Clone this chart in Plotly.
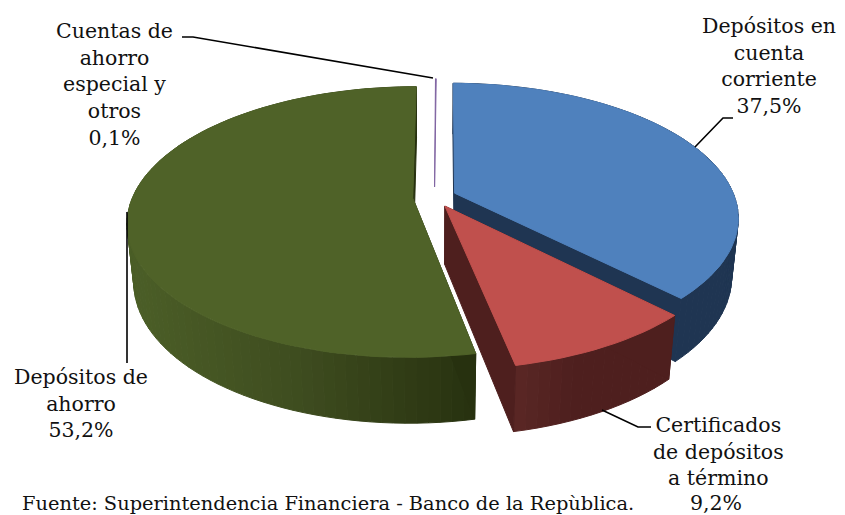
import math
import plotly.graph_objects as go

# ---- data ----
labels = ["Depósitos en cuenta corriente", "Certificados de depósitos a término",
          "Depósitos de ahorro", "Cuentas de ahorro especial y otros"]
values = [37.5, 9.2, 53.2, 0.1]
value_text = ["37,5%", "9,2%", "53,2%", "0,1%"]
top_colors = ["#4F81BD", "#C0504D", "#4F6228", "#8064A2"]
footer = "Fuente: Superintendencia Financiera - Banco de la Repùblica."

# ---- 3-D view of the exploded pie ----
W, H = 845, 515
CX, CY = 434.5, 197.0
L, EL = 5.0, math.radians(27.5)
F = 283.0 * L
FX = 280.0 * L
EXPLODE, DEPTH = 0.078, 0.235
START = math.radians(0.4)
C, S = math.cos(EL), math.sin(EL)


def proj(x, t, z):
    d = L - (t * C + z * S)
    return CX + FX * x / d, CY - F * (z * C - t * S) / d


def hex_rgb(h):
    return tuple(int(h[i:i + 2], 16) for i in (1, 3, 5))


def mix(a, b, k):
    return "rgb(%d,%d,%d)" % tuple(round(p + (q - p) * k) for p, q in zip(hex_rgb(a), hex_rgb(b)))


def side_color(i, sx):
    if i == 0:
        return "#1F3552"
    if i == 1:
        return mix("#5A2725", "#4E1F1E", min(1, max(0, (sx - 515) / 60)))
    if i == 2:
        if sx < 300:
            return mix("#4B5E27", "#3E4C1F", max(0, (sx - 130) / 170))
        return mix("#3E4C1F", "#27310F", min(1, (sx - 300) / 177))
    return "#5A4673"


face_dark = ["#1F3552", "#4E1F1E", "#27310F", "#5A4673"]
fig = go.Figure()


def poly(xs, ys, color, lw=1.0):
    fig.add_trace(go.Scatter(x=xs, y=ys, mode="lines", fill="toself", fillcolor=color,
                             line=dict(color=color, width=lw), hoverinfo="skip", showlegend=False))


total = sum(values)
angles = []
a = START
for v in values:
    angles.append((a, a + v / total * 2 * math.pi))
    a = angles[-1][1]

for i in [3, 2, 0, 1]:
    a0, a1 = angles[i]
    mid = (a0 + a1) / 2
    ox, ot = EXPLODE * math.sin(mid), -EXPLODE * math.cos(mid)
    n = max(2, int((a1 - a0) / math.radians(2)))
    rim = [(ox + math.sin(a0 + (a1 - a0) * k / n), ot - math.cos(a0 + (a1 - a0) * k / n)) for k in range(n + 1)]
    if i != 3:
        # outer wall
        for k in range(n):
            p = [proj(*rim[k], 0), proj(*rim[k + 1], 0), proj(*rim[k + 1], -DEPTH), proj(*rim[k], -DEPTH)]
            sx = (p[0][0] + p[1][0]) / 2
            poly([q[0] for q in p] + [p[0][0]], [q[1] for q in p] + [p[0][1]], side_color(i, sx))
        # cut faces
        for r in (rim[0], rim[-1]):
            p = [proj(ox, ot, 0), proj(*r, 0), proj(*r, -DEPTH), proj(ox, ot, -DEPTH)]
            poly([q[0] for q in p] + [p[0][0]], [q[1] for q in p] + [p[0][1]], face_dark[i])
    # top
    p = [proj(ox, ot, 0)] + [proj(*r, 0) for r in rim] + [proj(ox, ot, 0)]
    poly([q[0] for q in p], [q[1] for q in p], top_colors[i], lw=1)

font = dict(family="DejaVu Serif", size=20.5, color="#111111")
text_blocks = [
    ("Depósitos en<br>cuenta<br>corriente<br>" + value_text[0], 769, 11.5),
    ("Certificados<br>de depósitos<br>a término", 718, 410.5),
    ("Depósitos de<br>ahorro<br>" + value_text[2], 81, 362.5),
    ("Cuentas de<br>ahorro<br>especial y<br>otros<br>" + value_text[3], 114, 17),
]
for txt, x, y in text_blocks:
    fig.add_annotation(x=x, y=y, text=txt, showarrow=False, xanchor="center", yanchor="top", font=font, align="center")
fig.add_annotation(x=716, y=503, text=value_text[1], showarrow=False, xanchor="center", yanchor="middle", font=font)
fig.add_annotation(x=327.5, y=503.5, text=footer, showarrow=False, xanchor="center", yanchor="middle",
                   font=dict(family="DejaVu Serif", size=19.4, color="#111111"))

leaders = [
    "M 733 118 L 723 118 L 695 147",
    "M 651 427 L 638 427 L 602 410",
    "M 127 212 L 127 363",
    "M 182 37 L 193 37 L 433 78",
]
for path in leaders:
    fig.add_shape(type="path", path=path, line=dict(color="#000000", width=1.6), layer="above")

fig.update_layout(
    width=W, height=H, autosize=False, margin=dict(l=0, r=0, t=0, b=0),
    paper_bgcolor="white", plot_bgcolor="white", showlegend=False,
    xaxis=dict(range=[0, W], visible=False, fixedrange=True),
    yaxis=dict(range=[H, 0], visible=False, fixedrange=True),
)
fig.write_html("out.html", config={"displayModeBar": False},
               post_script="document.body.style.margin='0';document.documentElement.style.overflow='hidden';")
